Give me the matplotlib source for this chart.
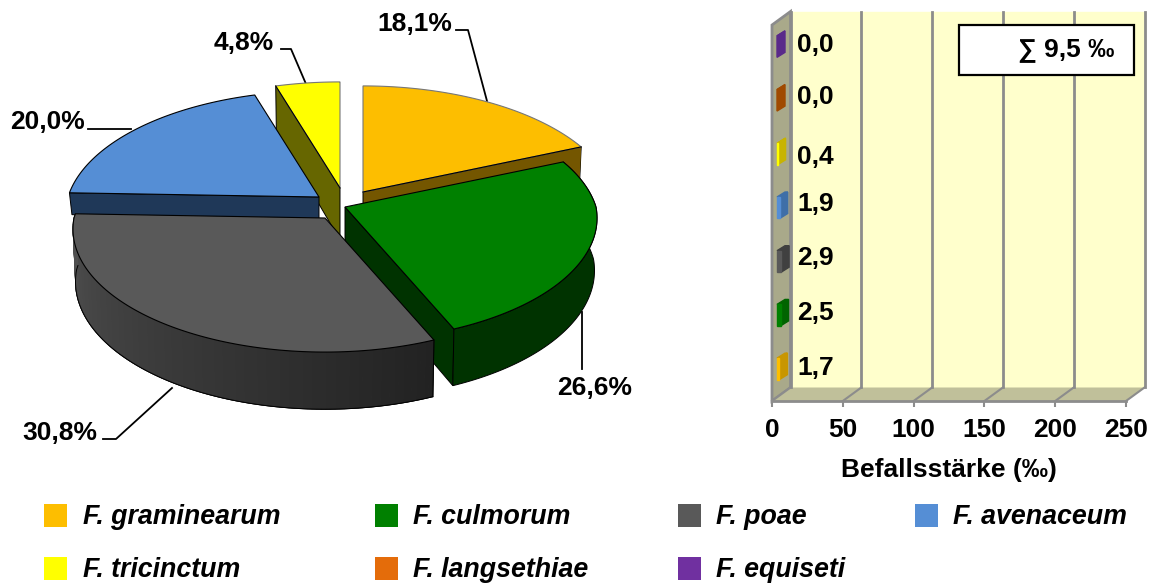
import numpy as np
import matplotlib
matplotlib.use('Agg')
import matplotlib.pyplot as plt
from matplotlib.patches import Rectangle
from matplotlib.colors import to_rgb

plt.rcParams['font.family'] = ['Liberation Sans', 'DejaVu Sans']
plt.rcParams['font.weight'] = 'bold'
FS = 19

# data
pie_labels = ['18,1%', '26,6%', '30,8%', '20,0%', '4,8%']
pie_values = [18.1, 26.6, 30.8, 20.0, 4.8]
species = ['F. graminearum', 'F. culmorum', 'F. poae', 'F. avenaceum',
           'F. tricinctum', 'F. langsethiae', 'F. equiseti']
bar_values = [1.7, 2.5, 2.9, 1.9, 0.4, 0.0, 0.0]
x_ticks = [0, 50, 100, 150, 200, 250]
x_title = 'Befallsstärke (‰)'
sum_text = '∑ 9,5 ‰'

colors = ['#FDBE00', '#008000', '#595959', '#558ED5', '#FFFF00', '#E46C0A', '#7030A0']
side_colors = ['#745600', '#003300', '#4D4D4D', '#1F3858', '#666600']
bar_sides = ['#C89600', '#006400', '#404040', '#3F6FA8', '#C8B400', '#A04A00', '#5A2A8A']

# pie layout (pixels)
apex = [(363, 192), (345, 207), (325, 218), (319, 197), (340, 188)]
RX, RY = 251, 122
depths = [52, 52, 52, 22, 52]
warp_in = [0, 65, 160.4, 271, 342.8, 360]
warp_out = [0, 67, 156.5, 272, 343, 360]
# which cut face of a slice shows: 0 start, -1 end, None hidden
cut_face = [-1, -1, None, 0, 0]
has_wall = [True, True, True, False, False]

fig = plt.figure(figsize=(11.52, 5.83), dpi=100)
ov = fig.add_axes([0, 0, 1, 1], zorder=5)
ov.set_xlim(0, 1152)
ov.set_ylim(583, 0)
ov.axis('off')


def project(theta, cx, cy, depth=None):
    t = np.radians(np.interp(theta, warp_in, warp_out))
    u, v = np.sin(t), np.cos(t)
    w = np.where(v > 0, 1 + 0.15 * v, 1 + 0.09 * v)
    x = RX * u / w
    y = -RY * v / w
    if depth is not None:
        return cx + 0.99 * x, cy + y + depth / w
    return cx + x, cy + y


def draw_slice(i, a, b):
    cx, cy = apex[i]
    th = np.linspace(a, b, 120)
    x, y = project(th, cx, cy)
    xl, yl = project(th, cx, cy, depth=depths[i])
    if cut_face[i] is not None:
        k = cut_face[i]
        ov.fill([cx, x[k], xl[k], cx], [cy, y[k], yl[k], cy + depths[i]],
                facecolor=side_colors[i], edgecolor='black', lw=0.7)
    # outer wall, only the part facing the viewer
    vis = np.cos(np.radians(np.interp(th, warp_in, warp_out))) < 0.45
    if has_wall[i] and vis.sum() > 1:
        wx, wy, wxl, wyl = x[vis], y[vis], xl[vis], yl[vis]
        ov.fill(np.r_[wx, wxl[::-1]], np.r_[wy, wyl[::-1]], facecolor=side_colors[i],
                edgecolor='none' if i == 0 else 'black', lw=0.7)
        if i == 2:
            c1, c2 = np.array(to_rgb('#222222')), np.array(to_rgb('#515151'))
            for j in range(len(wx) - 1):
                c = c1 + (c2 - c1) * j / (len(wx) - 2)
                ov.fill([wx[j], wx[j + 1], wxl[j + 1], wxl[j]],
                        [wy[j], wy[j + 1], wyl[j + 1], wyl[j]],
                        facecolor=c, edgecolor=c, lw=0.5)
            ov.plot(wxl, wyl, color='black', lw=0.7)
            ov.plot([wx[0], wxl[0]], [wy[0], wyl[0]], color='black', lw=0.7)
    # top
    edge = '#777777' if i in (0, 4) else 'black'
    ov.fill(np.r_[cx, x], np.r_[cy, y], facecolor=colors[i], edgecolor=edge, lw=0.8)
    if i == 0:
        ov.plot([cx, x[-1]], [cy, y[-1]], color='black', lw=0.8)
    if i == 4:
        ov.plot([cx, x[0]], [cy, y[0]], color='black', lw=0.8)


total = sum(pie_values)
angles = np.r_[0, np.cumsum(pie_values)] / total * 360
leaders = [[(456, 30), (468, 30), (487, 101)], [(582, 312), (582, 369)],
           [(172, 388), (116, 439), (103, 439)], [(131, 129), (88, 129)],
           [(281, 49), (291, 49), (306, 84)]]
for line in leaders:
    ov.plot(*zip(*line), color='black', lw=1.3, zorder=1)
for i in [4, 0, 3, 1, 2]:
    draw_slice(i, angles[i], angles[i + 1])

label_pos = [(377, 24), (557, 388), (22, 433), (10, 122), (214, 43)]
for txt, (lx, ly) in zip(pie_labels, label_pos):
    ov.text(lx, ly, txt, fontsize=FS, va='center', ha='left', color='black')

# bar chart
ax = fig.add_axes([772 / 1152, 1 - 401 / 583, 354 / 1152, 376 / 583])
ax.set_xlim(0, 250)
ax.set_ylim(-0.5, 6.5)
ax.patch.set_visible(False)
px, py = 250 / 354, 7 / 376
ox, oy = 18.5 * px, 13.5 * py

ax.fill([ox, 250 + ox, 250 + ox, ox], [-0.5 + oy, -0.5 + oy, 6.5 + oy, 6.5 + oy],
        color='#FFFFCC', clip_on=False, zorder=0)
ax.fill([0, ox, ox, 0], [-0.5, -0.5 + oy, 6.5 + oy, 6.5], facecolor='#A9A98A',
        edgecolor='#8C8C8C', lw=2, clip_on=False, zorder=1)
ax.fill([0, 250, 250 + ox, ox], [-0.5, -0.5, -0.5 + oy, -0.5 + oy], facecolor='#C0C09A',
        edgecolor='none', clip_on=False, zorder=1)
for t in x_ticks:
    ax.plot([t + ox, t + ox], [-0.5 + oy, 6.5 + oy], color='#8C8C8C', lw=2, clip_on=False, zorder=2)
    ax.plot([t, t + ox], [-0.5, -0.5 + oy], color='#8C8C8C', lw=1.5, clip_on=False, zorder=2)

label_nudge = [6, 7, 9, 9, 2, 9, 7]
for i, val in enumerate(bar_values):
    x0 = 5 * px
    top, bot = i + 16 * py, i + 5.5 * -py
    sx, sy = 8 * px, 5 * py
    ax.fill([x0 + val, x0 + val + sx, x0 + val + sx, x0 + val],
            [bot, bot + sy, top + sy, top], color=bar_sides[i], zorder=3, clip_on=False)
    ax.fill([x0, x0 + sx, x0 + val + sx, x0 + val], [top, top + sy, top + sy, top],
            color=bar_sides[i], zorder=3, clip_on=False)
    if val > 0:
        ax.fill([x0, x0 + val, x0 + val, x0], [bot, bot, top, top], color=colors[i], zorder=4, clip_on=False)
    ax.annotate(f'{val:.1f}'.replace('.', ','), xy=(0, i), xytext=(25, label_nudge[i]),
                textcoords='offset pixels', fontsize=FS, va='center', ha='left', zorder=6,
                annotation_clip=False)

ax.set_xticks(x_ticks)
ax.set_yticks([])
ax.tick_params(axis='x', length=4.5, width=1.5, color='#8C8C8C', labelsize=FS, pad=8)
for s in ['top', 'left', 'right']:
    ax.spines[s].set_visible(False)
ax.spines['bottom'].set_color('#8C8C8C')
ax.spines['bottom'].set_linewidth(2)
ax.set_xlabel(x_title, fontsize=FS, fontweight='bold', labelpad=11, x=0.5)

# sum box
ov.add_patch(Rectangle((959, 25), 175, 50, facecolor='white', edgecolor='black', lw=1.6))
ov.text(1114, 50, sum_text, fontsize=FS, ha='right', va='center')

# legend
leg_x = [(44, 83), (375, 413), (678, 716), (915, 953), (44, 83), (375, 413), (678, 716)]
leg_y = [516, 516, 516, 516, 569, 569, 569]
for name, col, (bx, tx), ly in zip(species, colors, leg_x, leg_y):
    ov.add_patch(Rectangle((bx, ly - 12), 23, 23, facecolor=col, edgecolor='none'))
    ov.text(tx, ly + 1, name, fontsize=19.3, style='italic', va='center', ha='left')

fig.savefig('out.png', dpi=100)
